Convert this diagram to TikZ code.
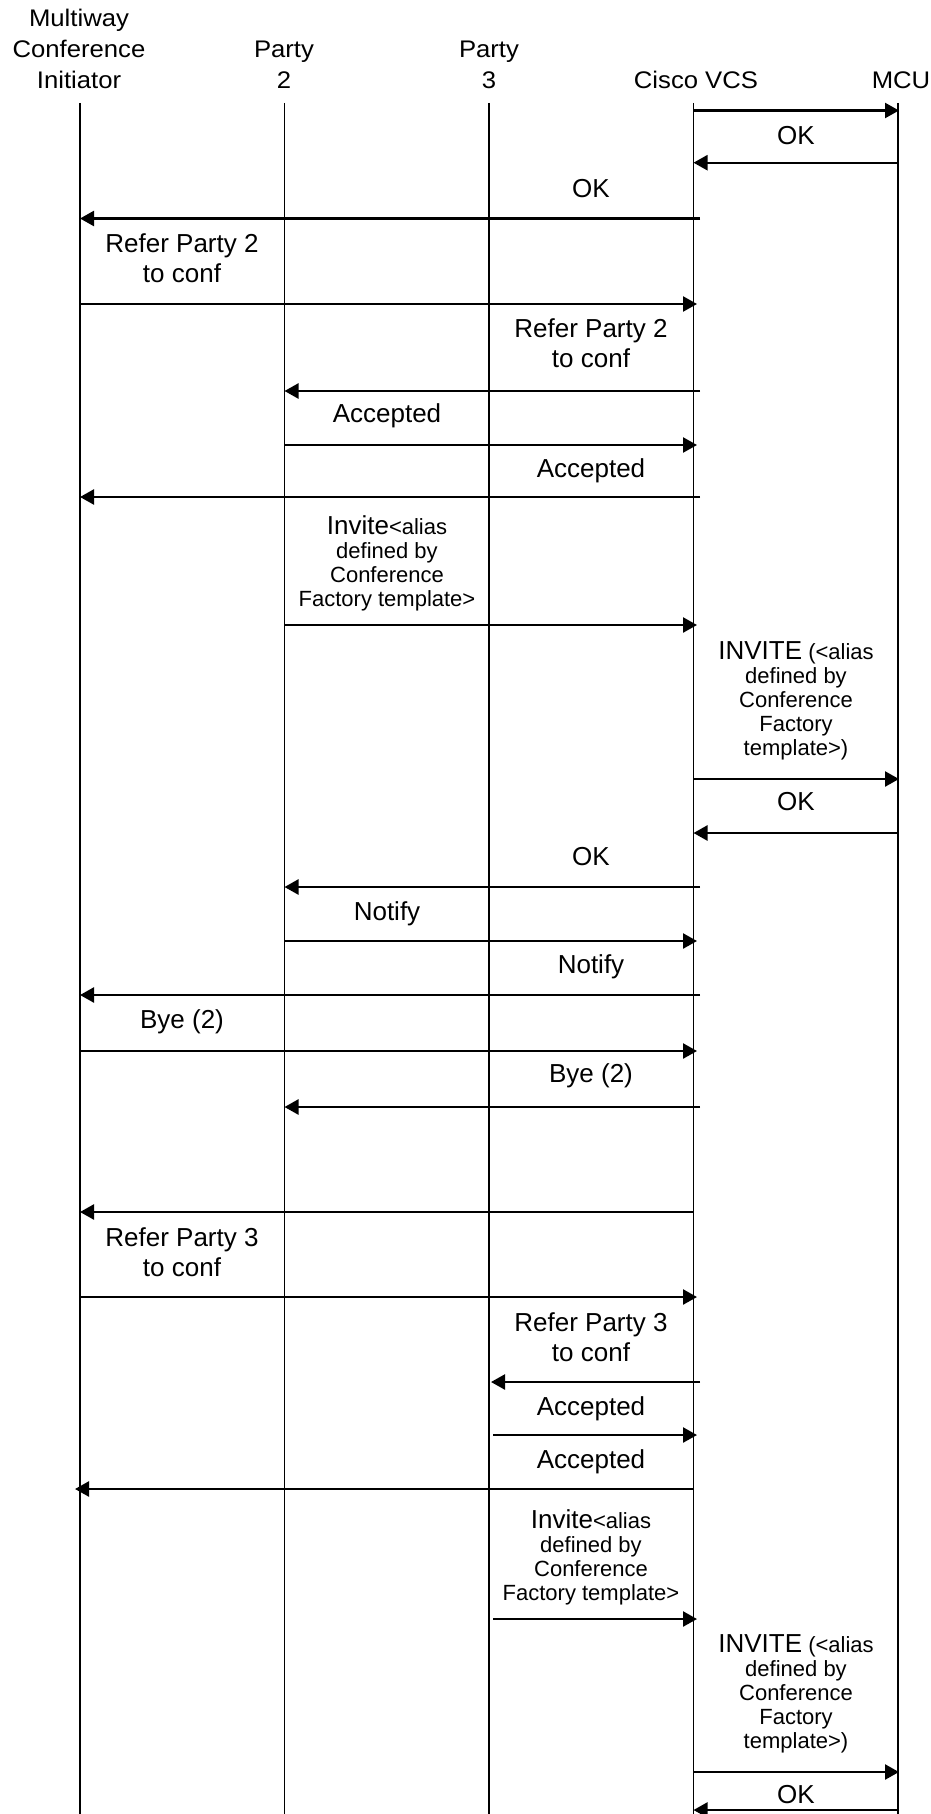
\documentclass[tikz,border=0pt]{standalone}
\usepackage{fontspec}
\setmainfont{Liberation Sans}
\usepackage{graphicx}
\usetikzlibrary{arrows.meta}
\newcommand\bigf{\fontsize{13}{15}\selectfont}
\newcommand\smallf{\fontsize{11}{12}\selectfont}
\newcommand\hdrf{\fontsize{12}{15.5}\selectfont}
\newcommand\hdrs[1]{\scalebox{1.07}[1]{#1}}
\begin{document}
\begin{tikzpicture}[x=0.5pt,y=-0.5pt,
  life/.style={line width=0.95pt},
  msg/.style={line width=1.2pt,-{Triangle[length=7pt,width=7.5pt]}},
  lbl/.style={font=\bigf,align=center,anchor=base,inner sep=0pt},
  slbl/.style={font=\smallf,align=center,anchor=base,inner sep=0pt},
  hdr/.style={font=\hdrf,align=center,anchor=base,inner sep=0pt}]
\useasboundingbox (0,0) rectangle (931,1814);
% lifeline tops
\coordinate (init) at (80,103);
\coordinate (p2) at (284.5,103);
\coordinate (p3) at (489,103);
\coordinate (vcs) at (693.5,103);
\coordinate (mcu) at (898,103);
\coordinate (bot) at (0,1814);
% arrow end helpers
\coordinate (vcsS) at (700,0);
\coordinate (vcsT) at (697,0);
\coordinate (p3S) at (493,0);
\coordinate (p3T) at (491,0);
\coordinate (mcuT) at (899,0);
% headers
\node[hdr] (hinit) at (79,88.3) {\hdrs{Multiway}\\\hdrs{Conference}\\\hdrs{Initiator}};
\node[hdr] (hp2) at (284,88.3) {\hdrs{Party}\\\hdrs{2}};
\node[hdr] (hp3) at (489,88.3) {\hdrs{Party}\\\hdrs{3}};
\node[hdr] (hvcs) at (696,88.3) {\hdrs{Cisco VCS}};
\node[hdr] (hmcu) at (901,88.3) {\hdrs{MCU}};
% lifelines
\foreach \l in {init,p2,p3,vcs,mcu}
  \draw[life] (\l) -- (\l |- bot);
% messages
\draw[msg] (vcs |- 0,110.5) -- (mcuT |- 0,110.5);
\node[lbl] (l2) at (796,144) {OK};
\draw[msg] (mcu |- 0,162.7) -- (vcs |- 0,162.7);
\node[lbl] (l3) at (591,197) {OK};
\draw[msg] (vcsS |- 0,218.5) -- (init |- 0,218.5);
\node[lbl] (l4) at (182,282) {Refer Party 2\\to conf};
\draw[msg] (init |- 0,304) -- (vcsT |- 0,304);
\node[lbl] (l5) at (591,367) {Refer Party 2\\to conf};
\draw[msg] (vcsS |- 0,391) -- (p2 |- 0,391);
\node[lbl] (l6) at (387,422) {Accepted};
\draw[msg] (p2 |- 0,445) -- (vcsT |- 0,445);
\node[lbl] (l7) at (591,477) {Accepted};
\draw[msg] (vcsS |- 0,497) -- (init |- 0,497);
\node[slbl] (l8) at (387,606) {{\bigf Invite}<alias\\defined by\\Conference\\Factory template>};
\draw[msg] (p2 |- 0,625) -- (vcsT |- 0,625);
\node[slbl] (l9) at (796,755) {{\bigf INVITE} (<alias\\defined by\\Conference\\Factory\\template>)};
\draw[msg] (vcs |- 0,779) -- (mcuT |- 0,779);
\node[lbl] (l10) at (796,810) {OK};
\draw[msg] (mcu |- 0,833) -- (vcs |- 0,833);
\node[lbl] (l11) at (591,865) {OK};
\draw[msg] (vcsS |- 0,887) -- (p2 |- 0,887);
\node[lbl] (l12) at (387,920) {Notify};
\draw[msg] (p2 |- 0,941) -- (vcsT |- 0,941);
\node[lbl] (l13) at (591,973) {Notify};
\draw[msg] (vcsS |- 0,995) -- (init |- 0,995);
\node[lbl] (l14) at (182,1028) {Bye (2)};
\draw[msg] (init |- 0,1051) -- (vcsT |- 0,1051);
\node[lbl] (l15) at (591,1082) {Bye (2)};
\draw[msg] (vcsS |- 0,1107) -- (p2 |- 0,1107);
\draw[msg] (vcs |- 0,1212) -- (init |- 0,1212);
\node[lbl] (l17) at (182,1276) {Refer Party 3\\to conf};
\draw[msg] (init |- 0,1297) -- (vcsT |- 0,1297);
\node[lbl] (l18) at (591,1361) {Refer Party 3\\to conf};
\draw[msg] (vcsS |- 0,1382) -- (p3T |- 0,1382);
\node[lbl] (l19) at (591,1415) {Accepted};
\draw[msg] (p3S |- 0,1435) -- (vcsT |- 0,1435);
\node[lbl] (l20) at (591,1468) {Accepted};
\draw[msg] (vcs |- 0,1489) -- (75,1489);
\node[slbl] (l21) at (591,1600) {{\bigf Invite}<alias\\defined by\\Conference\\Factory template>};
\draw[msg] (p3S |- 0,1619) -- (vcsT |- 0,1619);
\node[slbl] (l22) at (796,1748) {{\bigf INVITE} (<alias\\defined by\\Conference\\Factory\\template>)};
\draw[msg] (vcs |- 0,1772) -- (mcuT |- 0,1772);
\node[lbl] (l23) at (796,1803) {OK};
\draw[msg] (mcuT |- 0,1810) -- (vcs |- 0,1810);
\end{tikzpicture}
\end{document}
